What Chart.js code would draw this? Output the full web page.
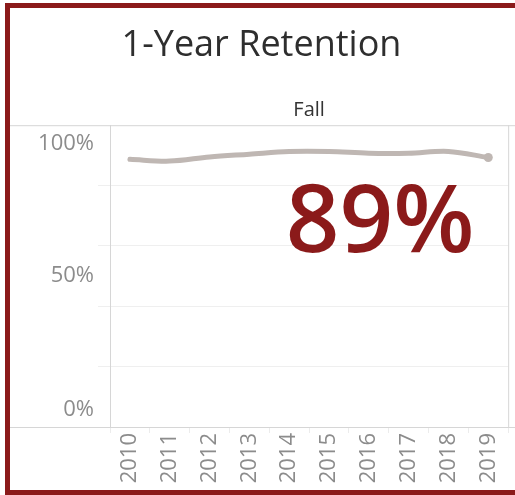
<!DOCTYPE html>
<html>
<head>
<meta charset="utf-8">
<script src="https://cdn.jsdelivr.net/npm/chart.js@4"></script>
<style>
  html, body { margin: 0; padding: 0; background: #fff; }
  #wrap { position: relative; width: 515px; height: 495px; overflow: hidden; }
  #frame {
    position: absolute; left: 5px; top: 3px; width: 530px; height: 482px;
    border: 5px solid #8b1a1a; border-right: none; pointer-events: none;
  }
</style>
</head>
<body>
<div id="wrap">
  <canvas id="chart" width="515" height="495"></canvas>
  <div id="frame"></div>
</div>
<script>
// 1-Year Retention, fall cohorts
const years = ['2010', '2011', '2012', '2013', '2014', '2015', '2016', '2017', '2018', '2019'];
const retention = [88.7, 88.1, 89.5, 90.4, 91.3, 91.3, 90.7, 90.7, 91.3, 89.3];
const yLabels = [0, 50, 100];

const FONT = '"Open Sans", "DejaVu Sans", sans-serif';
const last = retention.length - 1;

// Tableau-style pane lines, y labels kept inside the pane, and the big KPI
const paneDecor = {
  id: 'paneDecor',
  afterDraw(chart) {
    const { ctx, chartArea: a, scales } = chart;
    ctx.save();
    // header / footer lines running to the left frame
    ctx.strokeStyle = '#d6d6d6';
    ctx.lineWidth = 1;
    ctx.beginPath();
    ctx.moveTo(10, a.top + 0.5); ctx.lineTo(chart.width, a.top + 0.5);
    ctx.moveTo(10, a.bottom + 0.5); ctx.lineTo(chart.width, a.bottom + 0.5);
    ctx.moveTo(a.right + 0.5, a.top); ctx.lineTo(a.right + 0.5, a.bottom);
    ctx.stroke();

    // y labels, clamped inside the pane
    ctx.font = '22px ' + FONT;
    ctx.fillStyle = '#8c8c8c';
    ctx.textAlign = 'right';
    ctx.textBaseline = 'middle';
    yLabels.forEach(v => {
      let y = scales.y.getPixelForValue(v);
      y = Math.min(Math.max(y, a.top + 19), a.bottom - 17);
      ctx.fillText(v + '%', a.left - 16, y);
    });

    // latest value
    ctx.font = '600 94px ' + FONT;
    ctx.fillStyle = '#8b1a1a';
    ctx.textAlign = 'center';
    ctx.textBaseline = 'alphabetic';
    ctx.fillText(Math.round(retention[last]) + '%', a.left + 270, a.top + 127);
    ctx.restore();
  }
};

new Chart(document.getElementById('chart'), {
  type: 'line',
  data: {
    labels: years,
    datasets: [{
      data: retention,
      borderColor: '#bfb7b3',
      backgroundColor: '#bfb7b3',
      borderWidth: 5,
      borderCapStyle: 'round',
      tension: 0.35,
      pointRadius: ctx => ctx.dataIndex === last ? 4.5 : 0,
      pointBorderWidth: 0
    }]
  },
  options: {
    responsive: false,
    animation: false,
    layout: { padding: { left: 10, right: 2, top: 0, bottom: 0 } },
    plugins: {
      legend: { display: false },
      tooltip: { enabled: false },
      title: {
        display: true,
        text: '1-Year Retention',
        color: '#2e2e2e',
        font: { family: FONT, size: 36, weight: 'normal' },
        padding: { top: 24, bottom: 20 }
      },
      subtitle: {
        display: true,
        text: 'Fall',
        fullSize: false,
        color: '#333',
        font: { family: FONT, size: 20, weight: 'normal' },
        padding: { top: 11, bottom: 3 }
      }
    },
    scales: {
      x: {
        offset: true,
        border: { color: '#d6d6d6' },
        grid: { drawOnChartArea: false, offset: true, tickLength: 6, color: '#ececec' },
        ticks: {
          minRotation: 90, maxRotation: 90, padding: 0,
          color: '#8c8c8c',
          font: { family: FONT, size: 22 }
        },
        afterFit: s => { s.height = 68; }
      },
      y: {
        min: 0, max: 100,
        border: { color: '#d6d6d6' },
        grid: {
          tickLength: 12,
          color: c => (c.tick && (c.tick.value === 0 || c.tick.value === 100)) ? 'rgba(0,0,0,0)' : '#efefef'
        },
        ticks: { stepSize: 20, display: false },
        afterFit: s => { s.width = 100; }
      }
    }
  },
  plugins: [paneDecor]
});
</script>
</body>
</html>
